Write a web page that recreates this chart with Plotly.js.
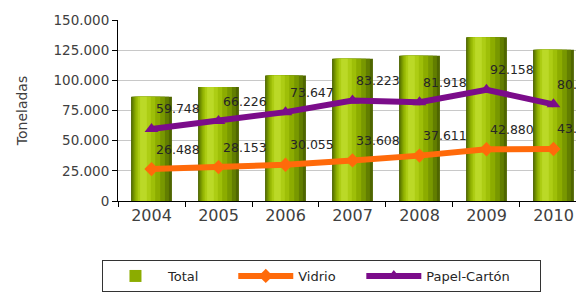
<!DOCTYPE html>
<html>
<head>
<meta charset="utf-8">
<script src="https://cdn.plot.ly/plotly-3.0.1.min.js"></script>
<style>html,body{margin:0;padding:0;background:#fff;}#chart{width:576px;height:292px;}</style>
</head>
<body>
<div id="chart"></div>
<script>
const years = ["2004", "2005", "2006", "2007", "2008", "2009", "2010"];
const total = [86400, 94400, 104000, 117800, 120300, 135700, 125300];
const vidrio = [26488, 28153, 30055, 33608, 37611, 42880, 43114];
const papel = [59748, 66226, 73647, 83223, 81918, 92158, 80083];
const yTicks = [0, 25000, 50000, 75000, 100000, 125000, 150000];

function fmt(v) {
  return String(Math.round(v)).replace(/\B(?=(\d{3})+(?!\d))/g, ".");
}
const NB = "\u00a0";

// cylinder-like shading: overlay layers of the same Total bars
const shades = [
  {offset: -0.305, width: 0.61, color: "#4f6600"},
  {offset: -0.29, width: 0.55, color: "#627e00"},
  {offset: -0.27, width: 0.47, color: "#789800"},
  {offset: -0.25, width: 0.38, color: "#8cac00"},
  {offset: -0.225, width: 0.28, color: "#9ebf08"},
  {offset: -0.2, width: 0.19, color: "#adcd14"},
  {offset: -0.17, width: 0.10, color: "#bbd927"}
];
const traces = shades.map((s, i) => ({
  type: "bar", x: years, y: total, name: "Total" + NB.repeat(7),
  offset: s.offset, width: s.width,
  marker: {color: s.color, line: {width: 0}},
  showlegend: i === 3, legendrank: 1, hoverinfo: "skip"
}));
const fontFam = "DejaVu Sans, sans-serif";
traces.push({
  type: "scatter", mode: "lines+markers", x: years, y: vidrio, name: "Vidrio" + NB.repeat(5),
  line: {color: "#ff6a0a", width: 6},
  marker: {symbol: "diamond", size: 11, color: "#ff6a0a"},
  cliponaxis: false, legendrank: 2
});
traces.push({
  type: "scatter", mode: "lines+markers", x: years, y: papel, name: "Papel-Cartón" + NB.repeat(6),
  line: {color: "#7b0c8a", width: 6},
  marker: {symbol: "triangle-up", size: 12, color: "#7b0c8a"},
  cliponaxis: false, legendrank: 3
});

const labelFont = {family: fontFam, size: 12.5, color: "#262626"};
const annotations = [];
[vidrio, papel].forEach(series => {
  years.forEach((yr, i) => {
    annotations.push({
      x: i, y: series[i], xref: "x", yref: "y",
      text: fmt(series[i]), showarrow: false,
      xanchor: "left", yanchor: "middle", xshift: 2, yshift: 20,
      font: labelFont
    });
  });
});

const layout = {
  width: 576, height: 292,
  margin: {l: 118, r: 0, t: 20, b: 90},
  paper_bgcolor: "#fff", plot_bgcolor: "#fff",
  separators: ",.",
  barmode: "overlay",
  font: {family: fontFam, color: "#404040"},
  annotations: annotations,
  xaxis: {
    type: "category", range: [-0.5, 6.336],
    showline: true, linecolor: "#000", linewidth: 1,
    ticks: "outside", tickson: "boundaries", ticklen: 5, tickcolor: "#000",
    tickfont: {family: fontFam, size: 16, color: "#404040"},
    showgrid: false, fixedrange: true
  },
  yaxis: {
    range: [0, 150000], tickvals: yTicks, tickformat: ",d",
    showline: true, linecolor: "#000", linewidth: 1,
    ticks: "outside", ticklen: 5, tickcolor: "#000",
    tickfont: {family: fontFam, size: 13.5, color: "#404040"},
    gridcolor: "#c8c8c8", gridwidth: 1, zeroline: false,
    title: {text: "Toneladas", font: {family: fontFam, size: 14, color: "#404040"}, standoff: 22}
  },
  legend: {
    orientation: "h", x: -0.035, xanchor: "left", y: -0.326, yanchor: "top",
    bordercolor: "#333", borderwidth: 1,
    font: {family: fontFam, size: 13, color: "#262626"},
    itemwidth: 55
  },
  showlegend: true
};
Plotly.newPlot("chart", traces, layout, {staticPlot: true, displayModeBar: false});
</script>
</body>
</html>
